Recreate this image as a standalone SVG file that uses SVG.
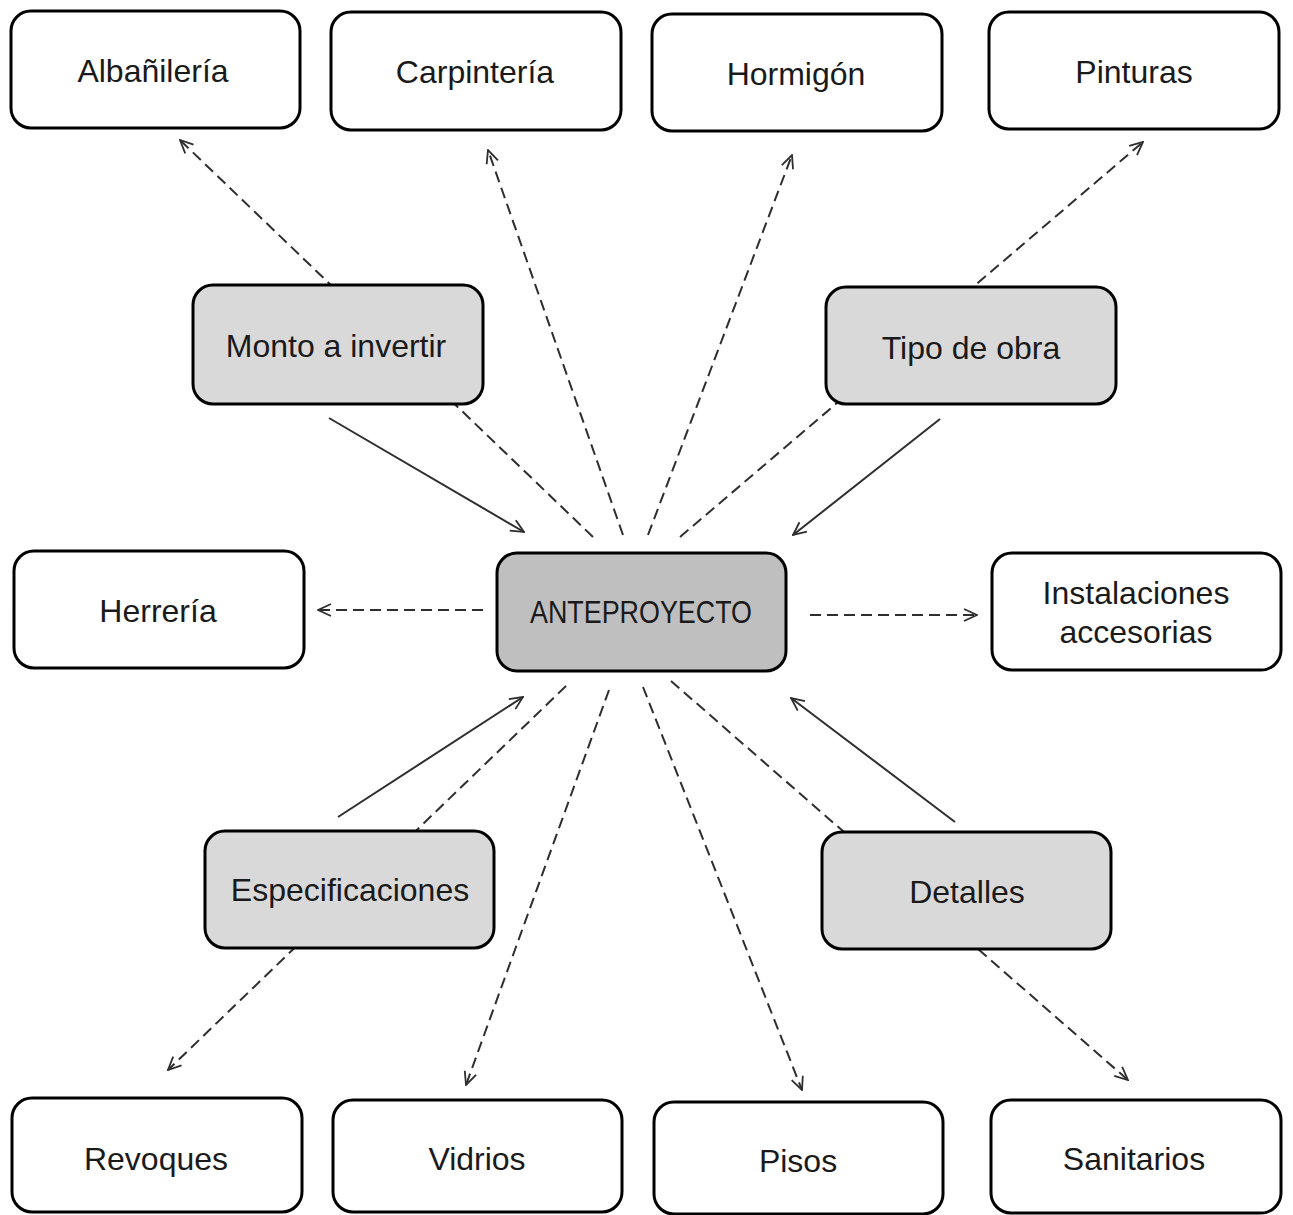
<svg xmlns="http://www.w3.org/2000/svg" width="1293" height="1215" viewBox="0 0 1293 1215">
<style>
.box{fill:#ffffff;stroke:#000;stroke-width:3}
.mid{fill:#d9d9d9;stroke:#000;stroke-width:3}
.core{fill:#bfbfbf;stroke:#000;stroke-width:3}
.t{font-family:"Liberation Sans",Arial,sans-serif;font-size:32px;fill:#1a1a1a;text-anchor:middle;dominant-baseline:central}
.dash{stroke:#2e2e2e;stroke-width:2;stroke-dasharray:11 6;fill:none}
.solid{stroke:#2e2e2e;stroke-width:2;fill:none}
</style>
<defs>
<marker id="arr" viewBox="0 0 16 16" markerWidth="16" markerHeight="16" refX="15" refY="8" orient="auto" markerUnits="userSpaceOnUse">
<path d="M2,2 L15,8 L2,14" fill="none" stroke="#2e2e2e" stroke-width="1.8"/>
</marker>
</defs>
<rect width="1293" height="1215" fill="#ffffff"/>
<g id="connectors">
<line class="dash" x1="593" y1="537" x2="180" y2="140" marker-end="url(#arr)"/>
<line class="dash" x1="623" y1="535" x2="488" y2="150" marker-end="url(#arr)"/>
<line class="dash" x1="648" y1="535" x2="792" y2="155" marker-end="url(#arr)"/>
<line class="dash" x1="680" y1="537" x2="1143" y2="142" marker-end="url(#arr)"/>
<line class="dash" x1="483" y1="610" x2="318" y2="610" marker-end="url(#arr)"/>
<line class="dash" x1="810" y1="615" x2="977" y2="615" marker-end="url(#arr)"/>
<line class="dash" x1="566" y1="686" x2="168" y2="1070" marker-end="url(#arr)"/>
<line class="dash" x1="609" y1="690" x2="466" y2="1085" marker-end="url(#arr)"/>
<line class="dash" x1="643" y1="687" x2="802" y2="1090" marker-end="url(#arr)"/>
<line class="dash" x1="671" y1="681" x2="1128" y2="1080" marker-end="url(#arr)"/>
<line class="solid" x1="329" y1="418" x2="524" y2="532" marker-end="url(#arr)"/>
<line class="solid" x1="940" y1="419" x2="793" y2="535" marker-end="url(#arr)"/>
<line class="solid" x1="338" y1="817" x2="523" y2="697" marker-end="url(#arr)"/>
<line class="solid" x1="955" y1="822" x2="791" y2="698" marker-end="url(#arr)"/>
</g>
<g id="albanileria"><rect class="box" x="11" y="11" width="289" height="117" rx="20"/><text class="t" x="153" y="71">Albañilería</text></g>
<g id="carpinteria"><rect class="box" x="331" y="12" width="290" height="118" rx="20"/><text class="t" x="475" y="72">Carpintería</text></g>
<g id="hormigon"><rect class="box" x="652" y="14" width="290" height="117" rx="20"/><text class="t" x="796" y="74">Hormigón</text></g>
<g id="pinturas"><rect class="box" x="989" y="12" width="290" height="117" rx="20"/><text class="t" x="1134" y="72">Pinturas</text></g>
<g id="monto"><rect class="mid" x="193" y="285" width="290" height="119" rx="20"/><text class="t" x="336" y="346">Monto a invertir</text></g>
<g id="tipo"><rect class="mid" x="826" y="287" width="290" height="117" rx="20"/><text class="t" x="971" y="348">Tipo de obra</text></g>
<g id="herreria"><rect class="box" x="14" y="551" width="290" height="117" rx="20"/><text class="t" x="158" y="611">Herrería</text></g>
<g id="anteproyecto"><rect class="core" x="497" y="553" width="289" height="118" rx="20"/><text class="t" x="641" y="612" style="font-size:31px" textLength="222" lengthAdjust="spacingAndGlyphs">ANTEPROYECTO</text></g>
<g id="instalaciones"><rect class="box" x="992" y="553" width="289" height="117" rx="20"/><text class="t" x="1136" y="593">Instalaciones</text><text class="t" x="1136" y="632">accesorias</text></g>
<g id="especificaciones"><rect class="mid" x="205" y="831" width="289" height="117" rx="20"/><text class="t" x="350" y="890">Especificaciones</text></g>
<g id="detalles"><rect class="mid" x="822" y="832" width="289" height="117" rx="20"/><text class="t" x="967" y="892">Detalles</text></g>
<g id="revoques"><rect class="box" x="12" y="1098" width="290" height="114" rx="20"/><text class="t" x="156" y="1159">Revoques</text></g>
<g id="vidrios"><rect class="box" x="333" y="1100" width="289" height="112" rx="20"/><text class="t" x="477" y="1159">Vidrios</text></g>
<g id="pisos"><rect class="box" x="654" y="1102" width="289" height="112" rx="20"/><text class="t" x="798" y="1161">Pisos</text></g>
<g id="sanitarios"><rect class="box" x="991" y="1100" width="290" height="113" rx="20"/><text class="t" x="1134" y="1159">Sanitarios</text></g>
</svg>
